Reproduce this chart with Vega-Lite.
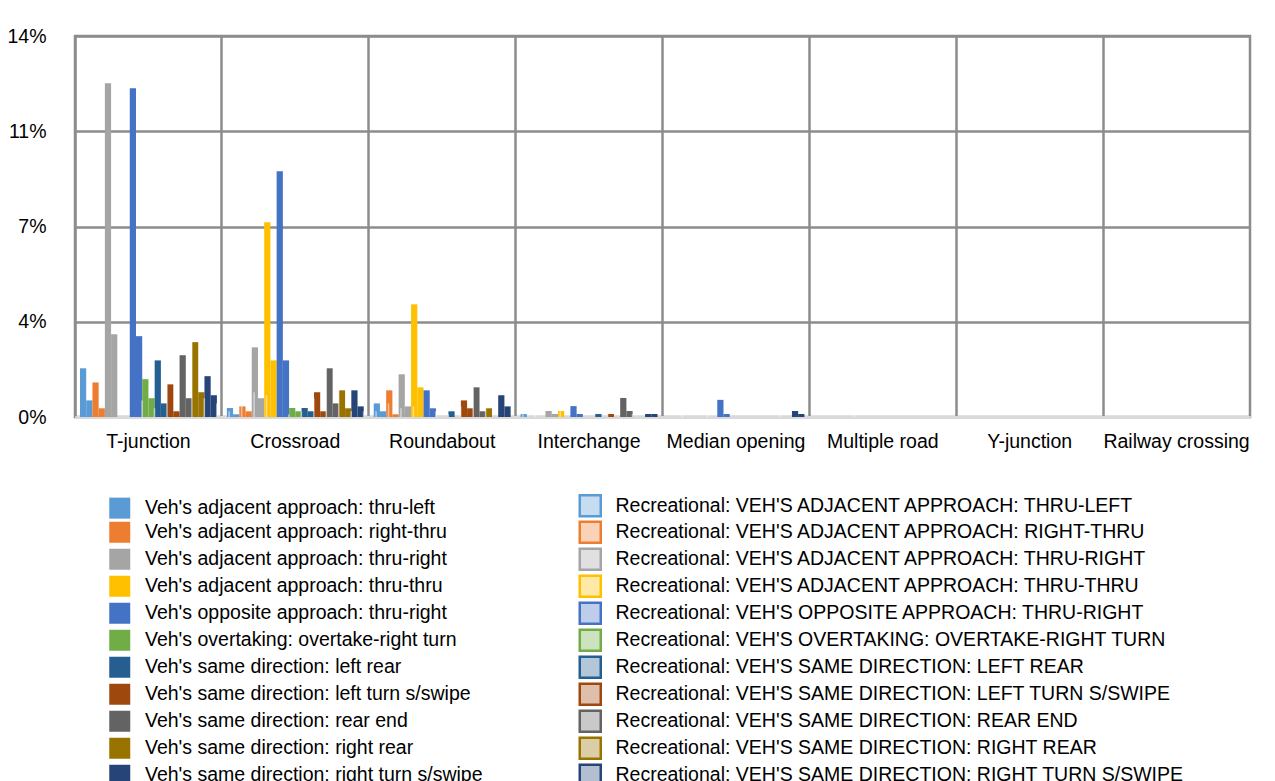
{
  "$schema": "https://vega.github.io/schema/vega-lite/v6.json",
  "width": 1175,
  "height": 381,
  "autosize": {"type": "none"},
  "padding": {"left": 75, "top": 36, "right": 25, "bottom": 364},
  "background": "white",
  "config": {"font": "Liberation Sans", "view": {"stroke": "#8c8c8c", "strokeWidth": 2.5}},
  "data": {"values": [
    {"site": "T-junction", "series": "Veh's adjacent approach: thru-left", "pct": 1.79},
    {"site": "T-junction", "series": "Recreational: VEH'S ADJACENT APPROACH: THRU-LEFT", "pct": 0.61},
    {"site": "T-junction", "series": "Veh's adjacent approach: right-thru", "pct": 1.27},
    {"site": "T-junction", "series": "Recreational: VEH'S ADJACENT APPROACH: RIGHT-THRU", "pct": 0.32},
    {"site": "T-junction", "series": "Veh's adjacent approach: thru-right", "pct": 12.26},
    {"site": "T-junction", "series": "Recreational: VEH'S ADJACENT APPROACH: THRU-RIGHT", "pct": 3.04},
    {"site": "T-junction", "series": "Veh's opposite approach: thru-right", "pct": 12.08},
    {"site": "T-junction", "series": "Recreational: VEH'S OPPOSITE APPROACH: THRU-RIGHT", "pct": 2.97},
    {"site": "T-junction", "series": "Veh's overtaking: overtake-right turn", "pct": 1.39},
    {"site": "T-junction", "series": "Recreational: VEH'S OVERTAKING: OVERTAKE-RIGHT TURN", "pct": 0.69},
    {"site": "T-junction", "series": "Veh's same direction: left rear", "pct": 2.08},
    {"site": "T-junction", "series": "Recreational: VEH'S SAME DIRECTION: LEFT REAR", "pct": 0.5},
    {"site": "T-junction", "series": "Veh's same direction: left turn s/swipe", "pct": 1.2},
    {"site": "T-junction", "series": "Recreational: VEH'S SAME DIRECTION: LEFT TURN S/SWIPE", "pct": 0.21},
    {"site": "T-junction", "series": "Veh's same direction: rear end", "pct": 2.27},
    {"site": "T-junction", "series": "Recreational: VEH'S SAME DIRECTION: REAR END", "pct": 0.69},
    {"site": "T-junction", "series": "Veh's same direction: right rear", "pct": 2.75},
    {"site": "T-junction", "series": "Recreational: VEH'S SAME DIRECTION: RIGHT REAR", "pct": 0.91},
    {"site": "T-junction", "series": "Veh's same direction: right turn s/swipe", "pct": 1.5},
    {"site": "T-junction", "series": "Recreational: VEH'S SAME DIRECTION: RIGHT TURN S/SWIPE", "pct": 0.8},

    {"site": "Crossroad", "series": "Veh's adjacent approach: thru-left", "pct": 0.33},
    {"site": "Crossroad", "series": "Recreational: VEH'S ADJACENT APPROACH: THRU-LEFT", "pct": 0.1},
    {"site": "Crossroad", "series": "Veh's adjacent approach: right-thru", "pct": 0.39},
    {"site": "Crossroad", "series": "Recreational: VEH'S ADJACENT APPROACH: RIGHT-THRU", "pct": 0.21},
    {"site": "Crossroad", "series": "Veh's adjacent approach: thru-right", "pct": 2.56},
    {"site": "Crossroad", "series": "Recreational: VEH'S ADJACENT APPROACH: THRU-RIGHT", "pct": 0.69},
    {"site": "Crossroad", "series": "Veh's adjacent approach: thru-thru", "pct": 7.16},
    {"site": "Crossroad", "series": "Recreational: VEH'S ADJACENT APPROACH: THRU-THRU", "pct": 2.08},
    {"site": "Crossroad", "series": "Veh's opposite approach: thru-right", "pct": 9.03},
    {"site": "Crossroad", "series": "Recreational: VEH'S OPPOSITE APPROACH: THRU-RIGHT", "pct": 2.08},
    {"site": "Crossroad", "series": "Veh's overtaking: overtake-right turn", "pct": 0.33},
    {"site": "Crossroad", "series": "Recreational: VEH'S OVERTAKING: OVERTAKE-RIGHT TURN", "pct": 0.21},
    {"site": "Crossroad", "series": "Veh's same direction: left rear", "pct": 0.33},
    {"site": "Crossroad", "series": "Recreational: VEH'S SAME DIRECTION: LEFT REAR", "pct": 0.21},
    {"site": "Crossroad", "series": "Veh's same direction: left turn s/swipe", "pct": 0.91},
    {"site": "Crossroad", "series": "Recreational: VEH'S SAME DIRECTION: LEFT TURN S/SWIPE", "pct": 0.21},
    {"site": "Crossroad", "series": "Veh's same direction: rear end", "pct": 1.79},
    {"site": "Crossroad", "series": "Recreational: VEH'S SAME DIRECTION: REAR END", "pct": 0.5},
    {"site": "Crossroad", "series": "Veh's same direction: right rear", "pct": 0.98},
    {"site": "Crossroad", "series": "Recreational: VEH'S SAME DIRECTION: RIGHT REAR", "pct": 0.32},
    {"site": "Crossroad", "series": "Veh's same direction: right turn s/swipe", "pct": 0.98},
    {"site": "Crossroad", "series": "Recreational: VEH'S SAME DIRECTION: RIGHT TURN S/SWIPE", "pct": 0.39},

    {"site": "Roundabout", "series": "Veh's adjacent approach: thru-left", "pct": 0.5},
    {"site": "Roundabout", "series": "Recreational: VEH'S ADJACENT APPROACH: THRU-LEFT", "pct": 0.21},
    {"site": "Roundabout", "series": "Veh's adjacent approach: right-thru", "pct": 0.98},
    {"site": "Roundabout", "series": "Recreational: VEH'S ADJACENT APPROACH: RIGHT-THRU", "pct": 0.1},
    {"site": "Roundabout", "series": "Veh's adjacent approach: thru-right", "pct": 1.57},
    {"site": "Roundabout", "series": "Recreational: VEH'S ADJACENT APPROACH: THRU-RIGHT", "pct": 0.39},
    {"site": "Roundabout", "series": "Veh's adjacent approach: thru-thru", "pct": 4.14},
    {"site": "Roundabout", "series": "Recreational: VEH'S ADJACENT APPROACH: THRU-THRU", "pct": 1.09},
    {"site": "Roundabout", "series": "Veh's opposite approach: thru-right", "pct": 0.98},
    {"site": "Roundabout", "series": "Recreational: VEH'S OPPOSITE APPROACH: THRU-RIGHT", "pct": 0.32},
    {"site": "Roundabout", "series": "Veh's same direction: left rear", "pct": 0.21},
    {"site": "Roundabout", "series": "Veh's same direction: left turn s/swipe", "pct": 0.61},
    {"site": "Roundabout", "series": "Recreational: VEH'S SAME DIRECTION: LEFT TURN S/SWIPE", "pct": 0.32},
    {"site": "Roundabout", "series": "Veh's same direction: rear end", "pct": 1.09},
    {"site": "Roundabout", "series": "Recreational: VEH'S SAME DIRECTION: REAR END", "pct": 0.21},
    {"site": "Roundabout", "series": "Veh's same direction: right rear", "pct": 0.32},
    {"site": "Roundabout", "series": "Veh's same direction: right turn s/swipe", "pct": 0.8},
    {"site": "Roundabout", "series": "Recreational: VEH'S SAME DIRECTION: RIGHT TURN S/SWIPE", "pct": 0.39},

    {"site": "Interchange", "series": "Veh's adjacent approach: thru-left", "pct": 0.11},
    {"site": "Interchange", "series": "Veh's adjacent approach: thru-right", "pct": 0.22},
    {"site": "Interchange", "series": "Recreational: VEH'S ADJACENT APPROACH: THRU-RIGHT", "pct": 0.11},
    {"site": "Interchange", "series": "Veh's adjacent approach: thru-thru", "pct": 0.22},
    {"site": "Interchange", "series": "Veh's opposite approach: thru-right", "pct": 0.4},
    {"site": "Interchange", "series": "Recreational: VEH'S OPPOSITE APPROACH: THRU-RIGHT", "pct": 0.11},
    {"site": "Interchange", "series": "Veh's same direction: left rear", "pct": 0.11},
    {"site": "Interchange", "series": "Veh's same direction: left turn s/swipe", "pct": 0.11},
    {"site": "Interchange", "series": "Veh's same direction: rear end", "pct": 0.7},
    {"site": "Interchange", "series": "Recreational: VEH'S SAME DIRECTION: REAR END", "pct": 0.22},
    {"site": "Interchange", "series": "Veh's same direction: right turn s/swipe", "pct": 0.11},
    {"site": "Interchange", "series": "Recreational: VEH'S SAME DIRECTION: RIGHT TURN S/SWIPE", "pct": 0.11},

    {"site": "Median opening", "series": "Veh's opposite approach: thru-right", "pct": 0.63},
    {"site": "Median opening", "series": "Recreational: VEH'S OPPOSITE APPROACH: THRU-RIGHT", "pct": 0.11},
    {"site": "Median opening", "series": "Veh's same direction: right turn s/swipe", "pct": 0.22},
    {"site": "Median opening", "series": "Recreational: VEH'S SAME DIRECTION: RIGHT TURN S/SWIPE", "pct": 0.11}
  ]},
  "encoding": {
    "x": {
      "field": "site", "type": "nominal",
      "scale": {"domain": ["T-junction", "Crossroad", "Roundabout", "Interchange", "Median opening", "Multiple road", "Y-junction", "Railway crossing"], "paddingInner": 0, "paddingOuter": 0},
      "axis": {"title": null, "labelAngle": 0, "labelFontSize": 19.5, "labelColor": "#000", "labelPadding": 15, "labelLimit": 0, "ticks": false, "domainColor": "#d9d9d9", "domainWidth": 3, "grid": true, "gridColor": "#8c8c8c", "gridWidth": 2.5, "bandPosition": 0}
    },
    "xOffset": {
      "field": "series", "type": "nominal",
      "scale": {"domain": [
        "Veh's adjacent approach: thru-left", "Recreational: VEH'S ADJACENT APPROACH: THRU-LEFT",
        "Veh's adjacent approach: right-thru", "Recreational: VEH'S ADJACENT APPROACH: RIGHT-THRU",
        "Veh's adjacent approach: thru-right", "Recreational: VEH'S ADJACENT APPROACH: THRU-RIGHT",
        "Veh's adjacent approach: thru-thru", "Recreational: VEH'S ADJACENT APPROACH: THRU-THRU",
        "Veh's opposite approach: thru-right", "Recreational: VEH'S OPPOSITE APPROACH: THRU-RIGHT",
        "Veh's overtaking: overtake-right turn", "Recreational: VEH'S OVERTAKING: OVERTAKE-RIGHT TURN",
        "Veh's same direction: left rear", "Recreational: VEH'S SAME DIRECTION: LEFT REAR",
        "Veh's same direction: left turn s/swipe", "Recreational: VEH'S SAME DIRECTION: LEFT TURN S/SWIPE",
        "Veh's same direction: rear end", "Recreational: VEH'S SAME DIRECTION: REAR END",
        "Veh's same direction: right rear", "Recreational: VEH'S SAME DIRECTION: RIGHT REAR",
        "Veh's same direction: right turn s/swipe", "Recreational: VEH'S SAME DIRECTION: RIGHT TURN S/SWIPE"
      ], "paddingInner": 0, "paddingOuter": 0.8}
    },
    "y": {
      "field": "pct", "type": "quantitative",
      "scale": {"domain": [0, 14], "nice": false},
      "axis": {"title": null, "values": [0, 3.5, 7, 10.5, 14], "labelExpr": "format(datum.value, '.0f') + '%'", "labelFontSize": 19.5, "labelColor": "#000", "labelPadding": 29, "ticks": false, "domain": false, "gridColor": {"condition": {"test": "datum.value === 0", "value": "#d9d9d9"}, "value": "#8c8c8c"}, "gridWidth": 2.5}
    }
  },
  "layer": [
    {
      "mark": {"type": "bar"},
      "encoding": {
        "color": {
          "field": "series", "type": "nominal",
          "scale": {"domain": [
            "Veh's adjacent approach: thru-left",
            "Veh's adjacent approach: right-thru",
            "Veh's adjacent approach: thru-right",
            "Veh's adjacent approach: thru-thru",
            "Veh's opposite approach: thru-right",
            "Veh's overtaking: overtake-right turn",
            "Veh's same direction: left rear",
            "Veh's same direction: left turn s/swipe",
            "Veh's same direction: rear end",
            "Veh's same direction: right rear",
            "Veh's same direction: right turn s/swipe",
            "Recreational: VEH'S ADJACENT APPROACH: THRU-LEFT",
            "Recreational: VEH'S ADJACENT APPROACH: RIGHT-THRU",
            "Recreational: VEH'S ADJACENT APPROACH: THRU-RIGHT",
            "Recreational: VEH'S ADJACENT APPROACH: THRU-THRU",
            "Recreational: VEH'S OPPOSITE APPROACH: THRU-RIGHT",
            "Recreational: VEH'S OVERTAKING: OVERTAKE-RIGHT TURN",
            "Recreational: VEH'S SAME DIRECTION: LEFT REAR",
            "Recreational: VEH'S SAME DIRECTION: LEFT TURN S/SWIPE",
            "Recreational: VEH'S SAME DIRECTION: REAR END",
            "Recreational: VEH'S SAME DIRECTION: RIGHT REAR",
            "Recreational: VEH'S SAME DIRECTION: RIGHT TURN S/SWIPE"
          ], "range": [
            "#5B9BD5", "#ED7D31", "#A5A5A5", "#FFC000", "#4472C4", "#70AD47", "#255E91", "#9E480E", "#636363", "#997300", "#264478",
            "#5B9BD5", "#ED7D31", "#A5A5A5", "#FFC000", "#4472C4", "#70AD47", "#255E91", "#9E480E", "#636363", "#997300", "#264478"
          ]},
          "legend": {
            "orient": "none", "legendX": 35, "legendY": 459.5, "columns": 2, "title": null,
            "padding": 0, "symbolType": "square", "symbolSize": 441, "symbolStrokeWidth": 0,
            "labelFontSize": 19.5, "labelColor": "#000", "labelLimit": 800, "labelOffset": 15.5,
            "rowPadding": -5, "columnPadding": 91.5,
            "encode": {"symbols": {"update": {
              "fillOpacity": {"signal": "indexof('' + datum.value, 'Recreational') === 0 ? 0.35 : 1"},
              "stroke": {"signal": "scale('color', datum.value)"},
              "strokeWidth": {"signal": "indexof('' + datum.value, 'Recreational') === 0 ? 2.5 : 0"}
            }}}
          }
        }
      }
    },
    {
      "transform": [{"filter": "indexof('' + datum.series, 'Recreational') === 0"}],
      "mark": {"type": "bar", "color": "#ffffff", "opacity": 0.5, "width": {"band": 0.25}}
    }
  ]
}
